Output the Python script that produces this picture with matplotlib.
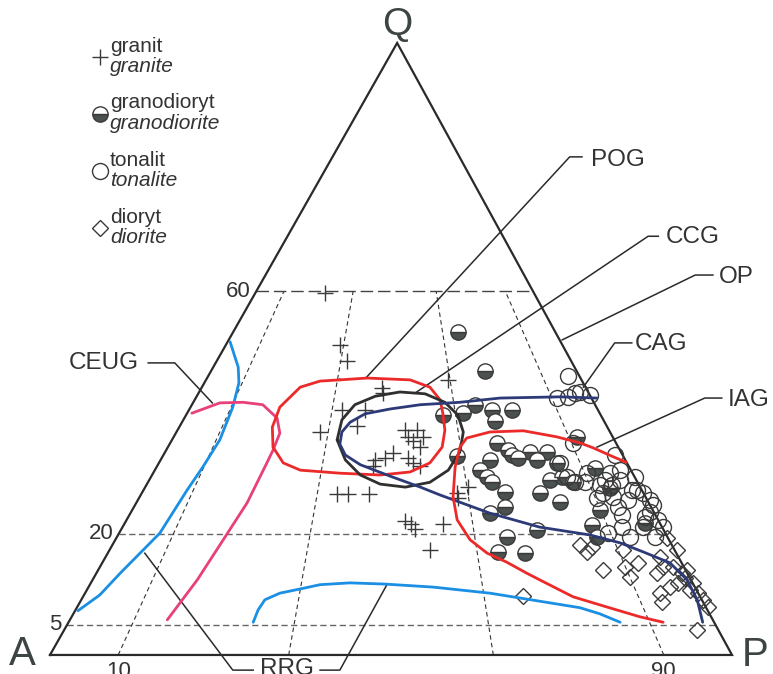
import matplotlib.pyplot as plt

plt.rcParams['font.family'] = ['Liberation Sans', 'DejaVu Sans']

# diagram coordinates: x runs along the A-P base (0-100), y is the Q height
A = (0.0, 0.0)
P = (100.0, 0.0)
Q = (50.9, 101.0)

q_levels = [60, 20, 5]
ratio_lines = [10, 35, 65, 90]

granite = [(40.3, 59.8), (42.5, 51.2), (43.5, 48.5), (58.4, 45.4), (48.7, 44.1), (48.8, 43.2),
           (42.8, 40.4), (46.2, 40.4), (45.0, 37.8), (39.6, 36.8), (52.1, 37.1), (53.8, 37.1),
           (52.5, 36.0), (54.7, 36.0), (53.2, 35.3), (54.3, 34.3), (50.3, 33.3), (49.1, 32.5),
           (47.7, 32.2), (47.4, 31.2), (52.5, 32.5), (53.2, 31.7), (54.3, 31.2), (42.1, 26.6),
           (43.7, 26.6), (46.8, 26.6), (52.1, 22.1), (52.9, 21.6), (53.5, 20.8), (55.7, 17.3),
           (57.6, 21.6), (59.7, 26.7), (61.3, 27.7), (59.8, 25.9)]

granodiorite = [(59.8, 53.3), (63.8, 46.9), (62.3, 41.3), (60.6, 39.9), (57.6, 39.6), (64.8, 40.4),
                (65.3, 38.6), (67.7, 40.4), (77.3, 36.0), (65.5, 35.0), (67.2, 33.8), (67.7, 33.0),
                (68.6, 32.5), (70.4, 33.5), (71.4, 32.2), (72.9, 33.5), (74.3, 31.7), (64.5, 32.2),
                (63.1, 30.5), (64.1, 29.4), (64.8, 28.5), (66.7, 26.9), (59.7, 32.8), (73.3, 28.9),
                (75.1, 29.4), (76.7, 28.5), (71.8, 26.7), (74.8, 25.2), (79.9, 30.9), (64.5, 23.4),
                (66.7, 24.4), (71.4, 20.6), (67.0, 19.5), (65.7, 17.0), (69.7, 16.8), (79.5, 21.5),
                (80.2, 19.5), (80.6, 23.9), (82.1, 27.6), (87.2, 21.8)]

tonalite = [(76.0, 46.0), (74.3, 42.4), (76.0, 42.6), (77.0, 43.2), (77.7, 43.4), (79.2, 42.9),
            (76.7, 35.0), (82.8, 33.0), (74.8, 31.7), (75.8, 29.4), (77.0, 28.5), (78.4, 28.5),
            (78.7, 30.0), (80.6, 28.1), (82.1, 30.0), (83.6, 30.5), (85.8, 29.4), (81.1, 26.7),
            (80.2, 25.9), (82.6, 26.1), (86.1, 27.2), (87.0, 26.7), (88.0, 25.6), (88.4, 24.8),
            (83.3, 24.4), (83.9, 23.1), (83.9, 21.1), (85.0, 19.5), (81.8, 20.1), (87.2, 22.8),
            (87.0, 21.1), (88.7, 19.5), (89.9, 21.1), (85.3, 27.2), (81.4, 28.9), (82.4, 28.1),
            (83.6, 28.9), (84.8, 25.6), (88.0, 23.6), (89.1, 22.3)]

diorite = [(77.7, 18.2), (79.5, 17.8), (78.7, 17.0), (84.0, 17.3), (81.1, 14.0), (84.3, 14.5),
           (86.2, 15.2), (85.0, 12.9), (89.4, 16.2), (89.9, 14.5), (89.0, 13.5), (91.9, 17.3),
           (91.3, 14.5), (92.7, 13.5), (93.4, 14.0), (90.9, 11.2), (92.1, 11.9), (94.3, 11.9),
           (89.4, 10.2), (89.7, 8.7), (95.0, 10.2), (95.7, 9.1), (96.5, 7.9), (90.5, 19.3),
           (69.4, 9.7), (94.9, 4.1), (93.1, 12.7), (93.8, 10.7)]

# field boundaries
rrg_left = [(26.4, 51.7), (27.6, 47.5), (27.7, 44.9), (26.8, 40.9), (24.9, 35.5), (22.4, 31.0),
            (20.1, 27.2), (16.1, 20.1), (13.2, 16.8), (10.3, 13.5), (7.3, 9.9), (4.1, 7.3)]
rrg_bottom = [(29.8, 5.4), (30.5, 7.4), (31.5, 9.1), (33.7, 10.2), (36.7, 10.9), (39.6, 11.6),
              (44.0, 11.9), (49.1, 11.7), (56.2, 11.2), (64.5, 10.2), (68.9, 9.4), (73.3, 8.6),
              (77.7, 7.8), (80.6, 6.8), (83.6, 5.4)]
ceug = [(20.8, 39.9), (24.9, 41.6), (28.3, 41.7), (31.2, 41.3), (33.3, 39.1), (33.7, 36.6),
        (32.7, 33.8), (31.8, 31.7), (28.9, 25.1), (25.4, 19.0), (21.6, 12.4), (17.2, 5.8)]
pog = [(42.5, 45.4), (46.5, 45.7), (52.8, 45.4), (55.7, 44.2), (57.2, 42.1), (57.6, 39.9),
       (57.9, 37.1), (57.5, 34.3), (55.7, 31.7), (52.8, 30.2), (48.4, 29.7), (42.5, 30.0),
       (36.7, 30.5), (34.2, 31.7), (32.7, 34.3), (32.6, 37.6), (33.7, 40.9), (36.7, 44.2),
       (39.6, 45.2), (42.5, 45.4)]
ccg = [(42.1, 35.5), (42.8, 38.8), (44.7, 41.3), (47.7, 42.7), (51.3, 43.4), (55.0, 43.1),
       (57.9, 41.7), (59.8, 39.6), (60.6, 36.8), (60.1, 33.5), (58.4, 30.5), (55.7, 28.5),
       (52.1, 27.7), (48.4, 28.2), (45.5, 29.7), (43.3, 32.2), (42.1, 35.5)]
cag = [(80.2, 42.4), (74.8, 42.6), (66.0, 42.4), (60.1, 41.7), (54.3, 41.3), (49.9, 40.6),
       (46.2, 39.8), (44.0, 38.4), (42.8, 36.8), (42.5, 34.8), (43.3, 33.0), (45.5, 31.4),
       (49.9, 29.5), (54.3, 27.7), (57.2, 26.4), (64.5, 23.4), (71.8, 21.1), (79.2, 19.8),
       (83.6, 18.5), (87.0, 17.0), (90.9, 15.2), (93.4, 12.4), (94.9, 9.1), (95.7, 5.4)]
iag = [(84.5, 31.8), (82.6, 32.7), (79.6, 34.2), (77.7, 35.0), (74.3, 36.0), (69.4, 37.0),
       (64.5, 36.8), (61.1, 35.8), (60.1, 34.3), (59.4, 31.0), (59.1, 26.1), (59.7, 22.3),
       (61.6, 19.0), (64.1, 16.8), (67.0, 15.3), (69.9, 13.5), (71.8, 12.4), (76.7, 9.6),
       (81.7, 7.9), (86.5, 6.3), (89.9, 5.4)]

# leader lines: label anchor first, then the elbow, then the field it points at
leaders = {
    'POG': [(78.0, 82.2), (76.2, 82.2), (46.3, 45.7)],
    'CCG': [(89.2, 69.1), (87.7, 69.1), (53.5, 43.2)],
    'OP': [(97.2, 62.7), (94.6, 62.7), (75.1, 52.0)],
    'CAG': [(85.3, 51.5), (82.8, 51.5), (78.2, 44.2)],
    'IAG': [(98.5, 42.4), (96.0, 42.4), (80.2, 34.3)],
    'CEUG': [(14.4, 48.2), (18.3, 48.2), (23.8, 41.6)],
    'RRG_l': [(29.8, -2.5), (26.8, -2.5), (13.9, 16.8)],
    'RRG_r': [(39.6, -2.5), (42.5, -2.5), (49.4, 11.6)],
}
label_pos = {'POG': (83.3, 81.7), 'CCG': (94.3, 69.0), 'OP': (100.6, 62.4),
             'CAG': (89.6, 51.3), 'IAG': (102.5, 42.1), 'CEUG': (7.9, 48.2)}

ink = '#333333'
mark = '#3a3a3a'


def left_x(y):
    return A[0] + (Q[0] - A[0]) * y / Q[1]


def right_x(y):
    return P[0] + (Q[0] - P[0]) * y / Q[1]


def xy(pts):
    return [p[0] for p in pts], [p[1] for p in pts]


fig = plt.figure(figsize=(7.73, 6.74), dpi=100)
ax = fig.add_axes([0, 0, 1, 1])
ax.set_xlim(-7.33, 106.01)
ax.set_ylim(-3.14, 108.09)
ax.axis('off')

# triangle frame
ax.plot([A[0], P[0], Q[0], A[0]], [A[1], P[1], Q[1], A[1]], color='#2a2a2a', lw=1.6,
        solid_joinstyle='miter', zorder=2)

# Q levels
for q in q_levels:
    if q == 60:
        ls, c = (0, (9, 3.5)), '#444444'
    else:
        ls, c = (0, (4.5, 2.5)), '#666666'
    ax.plot([left_x(q), right_x(q)], [q, q], color=c, lw=1.0, ls=ls, zorder=1)
    ax.text(left_x(q) - 0.8, q, str(q), ha='right', va='center', fontsize=16, color=ink)

# P/(A+P) dividers up to Q = 60
for r in ratio_lines:
    top = r + (Q[0] - r) * 60 / Q[1]
    ax.plot([r, top], [0, 60], color='#333333', lw=0.8, ls=(0, (4, 3)), zorder=1)
for r in (10, 90):
    ax.text(r, -1.0, str(r), ha='center', va='top', fontsize=16, color=ink)

# corner labels
ax.text(Q[0], 104.0, 'Q', ha='center', va='center', fontsize=28, color='#3d4444')
ax.text(-4.0, 0.2, 'A', ha='center', va='center', fontsize=29, color='#3d4444')
ax.text(103.4, 0.0, 'P', ha='center', va='center', fontsize=29, color='#3d4444')

# samples
gx, gy = xy(granite)
ax.plot(gx, gy, ls='none', marker='+', ms=11, mew=1.0, color=mark, zorder=3)
dx, dy = xy(granodiorite)
ax.plot(dx, dy, ls='none', marker='o', ms=11, mew=1.0, fillstyle='bottom',
        mfc='#4b5050', mfcalt='white', mec=mark, zorder=3)
tx, ty = xy(tonalite)
ax.plot(tx, ty, ls='none', marker='o', ms=11.5, mew=1.0, mfc='none', mec=mark, zorder=3)
rx, ry = xy(diorite)
ax.plot(rx, ry, ls='none', marker='D', ms=8.5, mew=1.0, mfc='none', mec=mark, zorder=3)

# tectonic fields
for pts, c in [(rrg_left, '#1a8fe3'), (rrg_bottom, '#1a8fe3'), (ceug, '#e8407a'),
               (pog, '#ec2a2a'), (ccg, '#2f2f2f'), (cag, '#2c3a78'), (iag, '#ec2a2a')]:
    x, y = xy(pts)
    ax.plot(x, y, color=c, lw=2.0, solid_capstyle='round', solid_joinstyle='round', zorder=4)

for name, pts in leaders.items():
    x, y = xy(pts)
    ax.plot(x, y, color='#2a2a2a', lw=1.1, zorder=2, clip_on=False)
for name, (x, y) in label_pos.items():
    ax.text(x, y, name, ha='center', va='center', fontsize=17.5, color=ink)
ax.text(34.8, -0.5, 'RRG', ha='center', va='top', fontsize=17.5, color=ink)

# legend
legend_y = [0.9154, 0.8309, 0.7463, 0.6617]
legend_pl = ['granit', 'granodioryt', 'tonalit', 'dioryt']
legend_en = ['granite', 'granodiorite', 'tonalite', 'diorite']
styles = [dict(marker='+', ms=11, mew=1.0, color=mark),
          dict(marker='o', ms=11, mew=1.0, fillstyle='bottom', mfc='#4b5050',
               mfcalt='white', mec=mark),
          dict(marker='o', ms=11.5, mew=1.0, mfc='none', mec=mark),
          dict(marker='D', ms=8.5, mew=1.0, mfc='none', mec=mark)]
for y, pl, en, st in zip(legend_y, legend_pl, legend_en, styles):
    ax.plot([0.1294], [y], ls='none', transform=ax.transAxes, **st)
    ax.text(0.1423, y + 0.0163, pl, transform=ax.transAxes, ha='left', va='center',
            fontsize=15, color=ink)
    ax.text(0.1423, y - 0.0148, en, transform=ax.transAxes, ha='left', va='center',
            fontsize=15, color=ink, style='italic')

fig.savefig('out.png', dpi=100)
